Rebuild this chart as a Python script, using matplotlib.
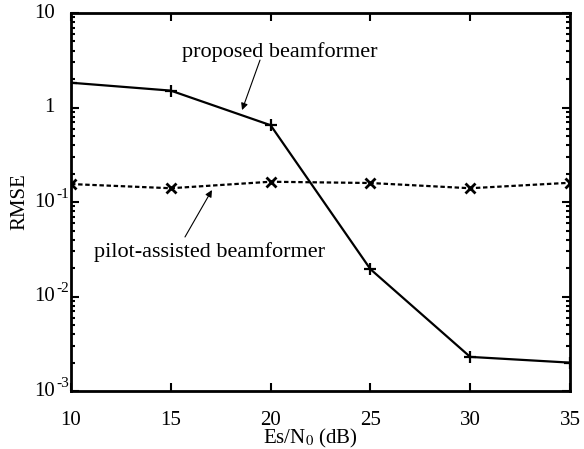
import numpy as np
import matplotlib.pyplot as plt
from matplotlib.ticker import FixedLocator, LogLocator, NullFormatter
from matplotlib.transforms import blended_transform_factory, offset_copy

plt.rcParams['font.family'] = ['Liberation Serif', 'DejaVu Serif']
plt.rcParams['mathtext.fontset'] = 'stix'

# data
snr = [10, 15, 20, 25, 30, 35]
proposed = [1.83, 1.51, 0.65, 0.0195, 0.0023, 0.0020]
pilot = [0.155, 0.140, 0.164, 0.159, 0.140, 0.160]

yticks = [1e-3, 1e-2, 1e-1, 1, 10]
ybase = ['10', '10', '10', '1', '10']
yexp = ['-3', '-2', '-1', '', '']
xticks = [10, 15, 20, 25, 30, 35]

fig = plt.figure(figsize=(5.84, 4.49), dpi=100)
ax = fig.add_axes([0.1216, 0.129, 0.8544, 0.842])

ax.semilogy(snr, proposed, color='k', lw=1.6, marker='+', ms=8, mew=1.6)
ax.semilogy(snr, pilot, color='k', lw=1.6, linestyle=(0, (2, 1.2)),
            marker='x', ms=7, mew=2)

ax.set_xlim(10, 35)
ax.set_ylim(1e-3, 10)
ax.set_xticks(xticks)
ax.set_xticklabels([str(v) for v in xticks])
ax.yaxis.set_major_locator(FixedLocator(yticks))
ax.yaxis.set_major_formatter(NullFormatter())
ax.yaxis.set_minor_locator(LogLocator(base=10, subs=np.arange(2, 10)))
ax.yaxis.set_minor_formatter(NullFormatter())

ax.tick_params(which='both', direction='in', top=True, right=True,
               labelsize=15, width=1.5)
ax.tick_params(which='major', length=6)
ax.tick_params(axis='x', which='major', pad=14)
ax.tick_params(which='minor', length=3)
for s in ax.spines.values():
    s.set_linewidth(2)

# y tick labels, MATLAB style: base right aligned, exponent hanging off
tr = blended_transform_factory(ax.transAxes, ax.transData)
for v, b, e in zip(yticks, ybase, yexp):
    ax.text(0, v, b, fontsize=15, ha='right', va='center',
            transform=offset_copy(tr, fig=fig, x=-16, y=0, units='dots'))
    if e:
        ax.text(0, v, e, fontsize=11, ha='left', va='center',
                transform=offset_copy(tr, fig=fig, x=-15, y=8, units='dots'))

ax.set_xlabel('Es/N$_0$ (dB)', fontsize=15)
ax.xaxis.set_label_coords(0.48, -0.096)
ax.set_ylabel('RMSE', fontsize=15)
ax.yaxis.set_label_coords(-0.084, 0.5)

# labels and arrows
ax.text(20.45, 3.42, 'proposed beamformer', fontsize=16,
        ha='center', va='baseline')
ax.annotate('', xy=(18.57, 0.94), xytext=(19.47, 3.18),
            arrowprops=dict(arrowstyle='-|>', color='k', lw=0.8,
                            mutation_scale=10, shrinkA=0, shrinkB=0))
ax.text(16.96, 0.0262, 'pilot-assisted beamformer', fontsize=16,
        ha='center', va='baseline')
ax.annotate('', xy=(17.06, 0.134), xytext=(15.71, 0.0427),
            arrowprops=dict(arrowstyle='-|>', color='k', lw=0.8,
                            mutation_scale=10, shrinkA=0, shrinkB=0))

fig.savefig('out.png', dpi=100)
